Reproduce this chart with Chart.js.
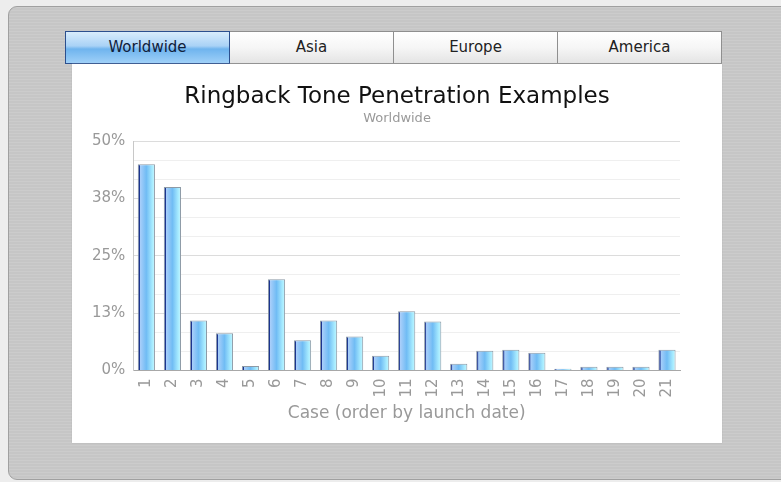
<!DOCTYPE html>
<html>
<head>
<meta charset="utf-8">
<script src="https://cdn.jsdelivr.net/npm/chart.js@4/dist/chart.umd.min.js"></script>
<style>
  html, body { margin: 0; padding: 0; }
  body {
    width: 781px; height: 482px; overflow: hidden;
    background: #ededed;
    font-family: "DejaVu Sans", Verdana, sans-serif;
    position: relative;
  }
  /* marco gris exterior */
  .marco {
    position: absolute; left: 8px; top: 6px; width: 790px; height: 472px;
    border: 1px solid #a0a0a0; border-radius: 9px;
    background-color: #c9c9c9;
    background-image: repeating-linear-gradient(180deg, rgba(255,255,255,0.06) 0 1px, rgba(0,0,0,0.015) 1px 3px);
  }
  .tabs {
    position: absolute; left: 65px; top: 31px; width: 657px; height: 33px;
    display: flex;
  }
  .tab {
    flex: 1; box-sizing: border-box; height: 33px;
    border: 1px solid #8f8f8f; border-left: none;
    background: linear-gradient(#ffffff, #f6f6f6 50%, #e4e4e4);
    text-align: center; line-height: 31px; font-size: 15px; color: #222;
  }
  .tab.activo {
    border: 1px solid #2b4f8e;
    background: linear-gradient(#d8ecfc, #a9d2f6 45%, #6fb4ee 55%, #9fd0f8);
    color: #10203a;
  }
  .panel {
    position: absolute; left: 72px; top: 64px; width: 650px; height: 379px;
    background: #fff; box-shadow: 0 0 1px #aaa;
  }
  #grafico { display: block; }
</style>
</head>
<body>
<div class="marco"></div>
<div class="tabs">
  <div class="tab activo">Worldwide</div>
  <div class="tab">Asia</div>
  <div class="tab">Europe</div>
  <div class="tab">America</div>
</div>
<div class="panel">
  <canvas id="grafico" width="650" height="379"></canvas>
</div>
<script>
// ── Datos ──────────────────────────────────
const casos   = ['1','2','3','4','5','6','7','8','9','10','11','12','13','14','15','16','17','18','19','20','21'];
const valores = [45.0, 40.0, 10.9, 8.1, 1.0, 19.9, 6.6, 10.9, 7.4, 3.2, 12.9, 10.7, 1.5, 4.3, 4.5, 3.9, 0.4, 0.8, 0.8, 0.8, 4.5];
const titulo    = 'Ringback Tone Penetration Examples';
const subtitulo = 'Worldwide';
const ejeX      = 'Case (order by launch date)';
const yMax  = 50;
const yPaso = 50 / 12;   // líneas menores; cada 3 una etiqueta

const ANCHO_BARRA = 0.66;

// Degradado horizontal de cada barra (borde oscuro a la izquierda)
function degradadoBarra(ctx) {
    const chart = ctx.chart;
    if (!chart.chartArea) return '#7fc4f6';
    const xs = chart.scales.x;
    const centro = xs.getPixelForValue(ctx.dataIndex);
    const w = xs.width / casos.length * ANCHO_BARRA;
    const g = chart.ctx.createLinearGradient(centro - w / 2, 0, centro + w / 2, 0);
    g.addColorStop(0, '#1b3590');
    g.addColorStop(0.11, '#1b3590');
    g.addColorStop(0.14, '#a8cefa');
    g.addColorStop(0.5, '#70bcf4');
    g.addColorStop(0.85, '#a8ecff');
    g.addColorStop(1, '#c4f5ff');
    return g;
}

new Chart(document.getElementById('grafico'), {
    type: 'bar',
    data: {
        labels: casos,
        datasets: [{
            data: valores,
            backgroundColor: degradadoBarra,
            borderColor: '#8d9aa6',
            borderWidth: 1,
            categoryPercentage: 1,
            barPercentage: ANCHO_BARRA,
        }]
    },
    options: {
        responsive: false,
        animation: false,
        // relleno simétrico para que el título quede centrado en el panel
        layout: { padding: { left: 12, right: 12, top: 0, bottom: 19 } },
        plugins: {
            legend: { display: false },
            tooltip: { enabled: false },
            title: {
                display: true, text: titulo, color: '#111',
                font: { family: 'DejaVu Sans', size: 23, weight: 'normal' },
                padding: { top: 19, bottom: 0 }
            },
            subtitle: {
                display: true, text: subtitulo, color: '#999',
                font: { family: 'DejaVu Sans', size: 13 },
                padding: { top: 0, bottom: 15 }
            }
        },
        scales: {
            x: {
                grid: { display: false, drawTicks: false },
                border: { color: '#a8a8a8' },
                ticks: {
                    color: '#999', minRotation: 90, maxRotation: 90, padding: 8,
                    font: { family: 'DejaVu Sans', size: 15 }
                },
                title: {
                    display: true, text: ejeX, color: '#999',
                    font: { family: 'DejaVu Sans', size: 17 },
                    padding: { top: -2, bottom: 0 }
                }
            },
            y: {
                min: 0, max: yMax,
                border: { color: '#c8c8c8' },
                grid: {
                    drawTicks: false,
                    color: c => (c.index % 3 === 0 ? '#dcdcdc' : '#efefef')
                },
                ticks: {
                    stepSize: yPaso, autoSkip: false, color: '#999', padding: 8,
                    font: { family: 'DejaVu Sans', size: 15 },
                    callback: (v, i) => (i % 3 === 0 ? Math.round(v) + '%' : '')
                }
            },
            // eje vacío a la derecha, solo reserva espacio
            derecha: {
                type: 'linear', position: 'right',
                grid: { display: false }, border: { display: false },
                ticks: { display: false },
                afterFit: s => { s.width = 30; }
            }
        }
    }
});
</script>
</body>
</html>
